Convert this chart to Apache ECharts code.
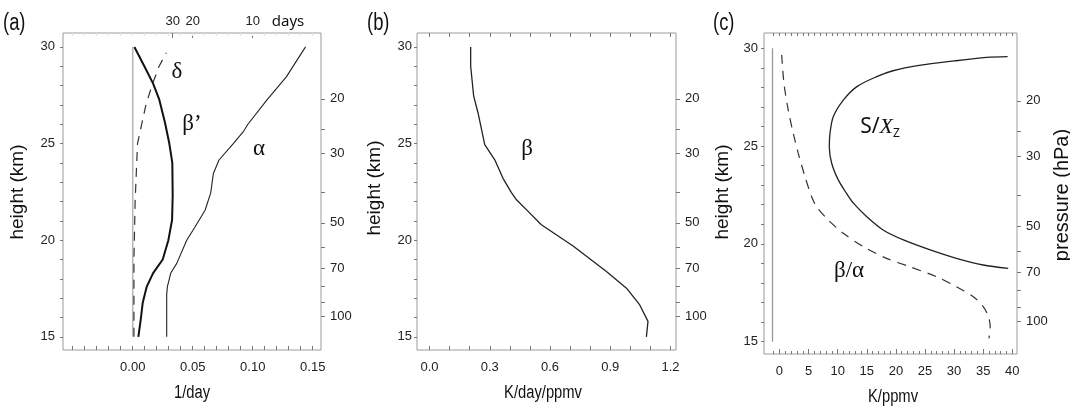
<!DOCTYPE html>
<html>
<head>
<meta charset="utf-8">
<script src="https://cdn.jsdelivr.net/npm/echarts@6/dist/echarts.min.js"></script>
<style>
html,body{margin:0;padding:0;background:#fff;}
#chart{width:1070px;height:408px;}
</style>
</head>
<body>
<div id="chart"></div>
<script>
// ---------- data ----------
// panel (a): rates in 1/day vs height (km)
const zeroAX = [0, 0];
const zeroAH = [15, 30];
const deltaX = [0.001, 0.001, 0.002, 0.004, 0.0075, 0.011, 0.016, 0.022, 0.028];
const deltaH = [15.0, 19.0, 22.0, 25.0, 26.0, 27.0, 28.0, 29.0, 29.7];
const betaPrimeX = [0.0047, 0.0067, 0.0083, 0.0117, 0.017, 0.025, 0.0297, 0.0328, 0.0333, 0.033, 0.0305, 0.027, 0.022, 0.017, 0.0097, 0.0014];
const betaPrimeH = [15.0, 15.9, 16.75, 17.6, 18.3, 19.0, 20.0, 21.05, 22.3, 24.0, 25.0, 26.05, 27.3, 28.1, 29.0, 30.0];
const alphaX = [0.0283, 0.0283, 0.0289, 0.0317, 0.0367, 0.045, 0.052, 0.0603, 0.065, 0.0672, 0.0719, 0.0838, 0.092, 0.096, 0.1117, 0.128, 0.144];
const alphaH = [15.0, 17.2, 17.6, 18.3, 18.8, 20.0, 20.7, 21.55, 22.45, 23.45, 24.15, 25.0, 25.6, 26.0, 27.25, 28.45, 30.0];

// panel (b): beta in K/day/ppmv
const betaX = [1.080, 1.088, 1.047, 0.981, 0.881, 0.715, 0.557, 0.491, 0.433, 0.408, 0.366, 0.325, 0.275, 0.242, 0.22, 0.205, 0.205];
const betaH = [15.0, 15.8, 16.65, 17.52, 18.38, 19.7, 20.8, 21.49, 22.09, 22.46, 23.2, 24.16, 24.94, 26.57, 27.45, 29.0, 30.0];

// panel (c): K/ppmv
const zeroCX = [-1.2, -1.2];
const zeroCH = [15, 30];
const sxX = [39.2, 35.6, 30.0, 24.0, 19.5, 16.7, 13.3, 11.0, 9.24, 8.68, 8.56, 8.97, 10.1, 11.5, 12.7, 15.0, 17.8, 21.3, 25.9, 30.4, 35.0, 39.3];
const sxH = [29.57, 29.53, 29.35, 29.12, 28.85, 28.55, 28.04, 27.36, 26.5, 25.65, 24.97, 24.12, 23.27, 22.59, 22.08, 21.39, 20.71, 20.2, 19.69, 19.26, 18.92, 18.75];
const baX = [0.38, 0.77, 1.5, 2.37, 3.23, 4.38, 5.53, 6.39, 8.39, 10.96, 14.4, 18.4, 22.4, 27.0, 30.4, 33.3, 35.0, 35.9, 36.2, 36.0];
const baH = [29.66, 28.21, 26.85, 25.65, 24.63, 23.44, 22.41, 21.9, 21.22, 20.54, 19.86, 19.26, 18.83, 18.32, 17.81, 17.3, 16.79, 16.28, 15.77, 15.17];

// tick labels
const kmLabels = [15, 20, 25, 30];
const pressureLabels = [20, 30, 50, 70, 100];      // hPa
const pressureTicks = [20, 25, 30, 40, 50, 60, 70, 80, 90, 100];
const daysLabels = [30, 20, 10];
const aLabels = [0, 0.05, 0.10, 0.15];
const bLabels = [0, 0.3, 0.6, 0.9, 1.2];
const cLabels = [0, 5, 10, 15, 20, 25, 30, 35, 40];

// ---------- helpers ----------
const P0 = 990, SCALE_H = 7; // log-pressure height mapping for right axis
const pToZ = p => SCALE_H * Math.log(P0 / p);
const zToP = z => Math.round(P0 * Math.exp(-z / SCALE_H));
const zip = (xs, ys) => xs.map((x, i) => [x, ys[i]]);
function range(a, b, s) { const r = []; const n = Math.round((b - a) / s); for (let i = 0; i <= n; i++) r.push(+(a + i * s).toFixed(6)); return r; }

const TICK_FONT = "'Liberation Sans', Arial, sans-serif";
const LBL = { fontFamily: TICK_FONT, fontSize: 13, color: '#222' };
const TICKC = '#777';

const kmTicks = range(15, 30, 1);

const grids = [
  { left: 63, top: 33, width: 258, height: 317 },
  { left: 417, top: 33, width: 259, height: 317 },
  { left: 764, top: 33, width: 253, height: 321 }
].map(g => Object.assign(g, { show: true, borderColor: '#9a9a9a', borderWidth: 1, backgroundColor: 'transparent', containLabel: false, outerBoundsMode: 'none' }));

function xAx(gi, min, max, pos, ticks, labels, fmt, opts) {
  opts = opts || {};
  return {
    type: 'value', gridIndex: gi, position: pos, min: min, max: max,
    axisLine: { show: false, onZero: false }, splitLine: { show: false },
    axisTick: { show: ticks.length > 0, inside: true, length: opts.tickLen || 4, customValues: ticks, lineStyle: { color: opts.tickColor || TICKC, width: 1 } },
    axisLabel: Object.assign({ show: labels.length > 0, customValues: labels, formatter: fmt, margin: opts.margin || 11, showMinLabel: true, showMaxLabel: true, hideOverlap: false }, LBL)
  };
}
function yAxLeft(gi, min, max, margin) {
  return {
    type: 'value', gridIndex: gi, position: 'left', min: min, max: max,
    axisLine: { show: false, onZero: false }, splitLine: { show: false },
    axisTick: { show: true, inside: false, length: 3, customValues: kmTicks, lineStyle: { color: TICKC } },
    axisLabel: Object.assign({ customValues: kmLabels, formatter: v => String(Math.round(v)), margin: margin }, LBL)
  };
}
function yAxRight(gi, min, max) {
  return {
    type: 'value', gridIndex: gi, position: 'right', min: min, max: max,
    axisLine: { show: false, onZero: false }, splitLine: { show: false },
    axisTick: { show: true, inside: false, length: 4, customValues: pressureTicks.map(pToZ), lineStyle: { color: TICKC } },
    axisLabel: Object.assign({ customValues: pressureLabels.map(pToZ), formatter: v => String(zToP(v)), margin: 9 }, LBL)
  };
}

const xAxes = [
  // panel a
  xAx(0, -0.0581, 0.1569, 'bottom', range(-0.05, 0.15, 0.01), aLabels, v => v.toFixed(2)),
  xAx(0, -0.0581, 0.1569, 'top', daysLabels.map(d => 1 / d), daysLabels.map(d => 1 / d), v => String(Math.round(1 / v)), { margin: 5, tickLen: 5 }),
  xAx(0, -0.0581, 0.1569, 'top', range(-0.05, 0.15, 0.01), [], null, { tickColor: '#e2e2e2', tickLen: 3 }),
  // panel b
  xAx(1, -0.0623, 1.2275, 'bottom', range(0, 1.2, 0.1), bLabels, v => v.toFixed(1)),
  xAx(1, -0.0623, 1.2275, 'top', range(0, 1.2, 0.1), [], null),
  // panel c
  xAx(2, -2.66, 40.81, 'bottom', range(-1, 40, 1), cLabels, v => String(Math.round(v)), { tickLen: 3 }),
  xAx(2, -2.66, 40.81, 'bottom', range(0, 40, 5), [], null, { tickLen: 5 }),
  xAx(2, -2.66, 40.81, 'top', range(-1, 40, 1), [], null, { tickLen: 3 })
];
const yAxes = [
  yAxLeft(0, 14.32, 30.72, 8), yAxRight(0, 14.32, 30.72),
  yAxLeft(1, 14.32, 30.72, 5), yAxRight(1, 14.32, 30.72),
  yAxLeft(2, 14.37, 30.78, 6), yAxRight(2, 14.37, 30.78)
];

function line(xi, yi, data, style, smooth) {
  return { type: 'line', xAxisIndex: xi, yAxisIndex: yi, data: data, symbol: 'none', smooth: smooth || false,
           lineStyle: style, silent: true, animation: false, clip: false };
}

const series = [
  line(0, 0, zip(zeroAX, zeroAH), { color: '#b5b5b5', width: 1.5 }),
  line(0, 0, zip(deltaX, deltaH), { color: '#333', width: 1.2, type: [9, 7] }),
  line(0, 0, zip(betaPrimeX, betaPrimeH), { color: '#111', width: 2 }),
  line(0, 0, zip(alphaX, alphaH), { color: '#222', width: 1.1 }),
  line(3, 2, zip(betaX, betaH), { color: '#222', width: 1.3 }),
  line(5, 4, zip(zeroCX, zeroCH), { color: '#999', width: 1.3 }),
  line(5, 4, zip(sxX, sxH), { color: '#222', width: 1.3 }, 0.3),
  line(5, 4, zip(baX, baH), { color: '#333', width: 1.2, type: [9, 7] }, 0.3)
];

const SANS = "'Liberation Sans', Arial, sans-serif";
const SERIF = "'Liberation Serif', 'Times New Roman', serif";
function txt(text, x, y, font, opts) {
  opts = opts || {};
  const sx = opts.sx || 1;
  return { type: 'text', x: x, y: y, rotation: opts.rot || 0, scaleX: opts.rot ? 1 : sx, scaleY: opts.rot ? sx : 1, silent: true,
    style: { text: text, font: font, fill: '#111', textAlign: opts.align || 'center', textVerticalAlign: 'middle' } };
}

const graphics = [
  txt('(a)', 3, 24, '23px ' + SANS, { align: 'left', sx: 0.8 }),
  txt('(b)', 367, 24, '23px ' + SANS, { align: 'left', sx: 0.8 }),
  txt('(c)', 713, 24, '23px ' + SANS, { align: 'left', sx: 0.8 }),
  txt('height (km)', 18, 192, '19px ' + SANS, { rot: Math.PI / 2 }),
  txt('height (km)', 375, 188, '19px ' + SANS, { rot: Math.PI / 2 }),
  txt('height (km)', 723, 192, '19px ' + SANS, { rot: Math.PI / 2 }),
  txt('pressure (hPa)', 1062, 195, '20px ' + SANS, { rot: Math.PI / 2 }),
  txt('1/day', 192, 393, '18px ' + SANS, { sx: 0.82 }),
  txt('K/day/ppmv', 543, 393, '18px ' + SANS, { sx: 0.82 }),
  txt('K/ppmv', 893, 397, '18px ' + SANS, { sx: 0.82 }),
  txt('days', 288, 22, "15px 'Noto Sans', 'Open Sans', sans-serif"),
  txt('\u03b4', 177, 72, '23px ' + SERIF),
  txt('\u03b2\u2019', 192, 124, '23px ' + SERIF),
  txt('\u03b1', 259, 149, '23px ' + SERIF),
  txt('\u03b2', 527, 149, '23px ' + SERIF),
  txt('\u03b2/\u03b1', 849, 271, '23px ' + SERIF),
  {
    type: 'text', x: 880, y: 127, silent: true,
    style: {
      text: '{s|S/}{x|X}{z|Z}', textAlign: 'center', textVerticalAlign: 'middle', fill: '#111',
      rich: {
        s: { fontFamily: "'Noto Sans', 'Open Sans', sans-serif", fontSize: 21, color: '#111', verticalAlign: 'middle', lineHeight: 26 },
        x: { fontFamily: SERIF, fontStyle: 'italic', fontSize: 22, color: '#111', verticalAlign: 'middle', lineHeight: 26 },
        z: { fontFamily: "'Noto Sans', 'Open Sans', sans-serif", fontSize: 12, color: '#111', verticalAlign: 'bottom', lineHeight: 26, padding: [10, 0, 0, 0] }
      }
    }
  }
];

const chart = echarts.init(document.getElementById('chart'), null, { renderer: 'canvas' });
chart.setOption({
  animation: false,
  backgroundColor: '#fff',
  grid: grids,
  xAxis: xAxes,
  yAxis: yAxes,
  series: series,
  graphic: graphics
});
</script>
</body>
</html>
